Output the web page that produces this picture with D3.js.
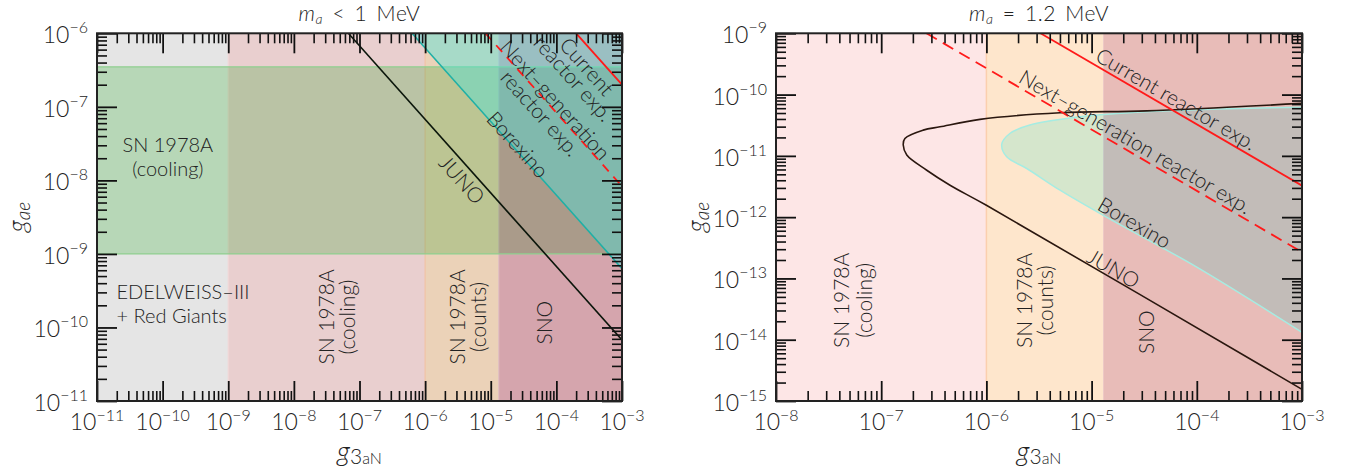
<!DOCTYPE html>
<html><head><meta charset="utf-8">
<script src="https://cdn.jsdelivr.net/npm/d3@7"></script>
<style>
body{margin:0;background:#fff;}
svg{display:block;font-family:Lato,"Open Sans","DejaVu Sans",sans-serif;font-weight:300;}
text{fill:#222;}
</style></head><body>
<svg id="chart" width="1346" height="474"></svg>
<script>
// ---------------- DATA ----------------
// Left panel  (m_a < 1 MeV)
const leftXDomain = [1e-11, 1e-3];
const leftYDomain = [1e-11, 1e-6];
const leftRegionEdges  = [1e-11, 1e-9, 1e-6, 1.32e-5, 1e-3];   // EDELWEISS+RG | SN cooling | SN counts | SNO
const leftRegionColors = ["#e5e5e5", "#e9cfcf", "#ebd2b8", "#d5a5ad"];
const leftCoolingBand  = [1e-9, 3.5e-7];                       // g_ae range of SN cooling band
const leftJUNO     = [[6.76e-8, 1e-6], [1e-3, 6.76e-11]];
const leftBorexino = [[6.31e-7, 1e-6], [1e-3, 6.31e-10]];
const leftNextGen  = [[8.32e-6, 1e-6], [1e-3, 8.32e-9]];
const leftCurrent  = [[2.0e-4, 1e-6], [1e-3, 2.0e-7]];
const leftXTicks = [1e-11,1e-10,1e-9,1e-8,1e-7,1e-6,1e-5,1e-4,1e-3];
const leftXTickLabels = ["−11","−10","−9","−8","−7","−6","−5","−4","−3"];
const leftYTicks = [1e-11,1e-10,1e-9,1e-8,1e-7,1e-6];
const leftYTickLabels = ["−11","−10","−9","−8","−7","−6"];

// Right panel (m_a = 1.2 MeV)
const rightXDomain = [1e-8, 1e-3];
const rightYDomain = [1e-15, 1e-9];
const rightRegionEdges  = [1e-8, 1e-6, 1.29e-5, 1e-3];          // SN cooling | SN counts | SNO
const rightRegionColors = ["#fde6e6", "#fee6cc", "#e8bcb8"];
const rightJUNO = [
  [1e-3, 7.18e-11], [3.34e-5, 5.43e-11], [5.01e-6, 5.05e-11], [8.69e-7, 3.94e-11],
  [3.62e-7, 2.98e-11], [2.51e-7, 2.63e-11], [1.68e-7, 1.92e-11], [1.62e-7, 1.50e-11],
  [1.75e-7, 1.03e-11], [2.71e-7, 5.83e-12], [4.51e-7, 3.32e-12], [1.0e-6, 1.56e-12],
  [1e-3, 1.55e-15]
];
const rightBorexino = [
  [1e-3, 6.24e-11], [3.34e-5, 5.24e-11], [7.76e-6, 4.34e-11], [2.59e-6, 3.18e-11],
  [1.67e-6, 2.32e-11], [1.40e-6, 1.55e-11], [1.56e-6, 9.64e-12], [2.42e-6, 6.22e-12],
  [5.01e-6, 2.75e-12], [1.29e-5, 1.07e-12], [1e-4, 1.53e-13], [1e-3, 1.32e-14]
];
const rightNextGen = [[2.69e-7, 1e-9], [1e-3, 2.69e-13]];
const rightCurrent = [[3.27e-6, 1e-9], [1e-3, 3.27e-12]];
const rightXTicks = [1e-8,1e-7,1e-6,1e-5,1e-4,1e-3];
const rightXTickLabels = ["−8","−7","−6","−5","−4","−3"];
const rightYTicks = [1e-15,1e-14,1e-13,1e-12,1e-11,1e-10,1e-9];
const rightYTickLabels = ["−15","−14","−13","−12","−11","−10","−9"];

// Text annotations (anchored in data coordinates)
const leftLabels = [
  {lines:["SN 1978A","(cooling)"], x:1.2e-10, y:2.4e-8, rot:0, anchor:"middle", gap:24, size:20},
  {lines:["EDELWEISS–III","+ Red Giants"], x:1.98e-11, y:2.45e-10, rot:0, anchor:"start", gap:24, size:20},
  {lines:["SN 1978A","(cooling)"], x:4.10e-8, y:1.39e-10, rot:-90, anchor:"middle", gap:21},
  {lines:["SN 1978A","(counts)"], x:4.07e-6, y:1.39e-10, rot:-90, anchor:"middle", gap:21},
  {lines:["SNO"], x:8.63e-5, y:1.16e-10, rot:-90, anchor:"middle", gap:20},
  {lines:["JUNO"], x:3.73e-6, y:1.04e-8, rot:48.2, anchor:"middle", gap:19, central:true},
  {lines:["Borexino"], x:2.64e-5, y:3.12e-8, rot:48.2, anchor:"middle", gap:19, central:true},
  {lines:["Next–generation","reactor exp."], x:9.86e-5, y:1.27e-7, rot:48.2, anchor:"middle", gap:20, central:true},
  {lines:["Current","reactor exp."], x:2.99e-4, y:3.61e-7, rot:48.2, anchor:"middle", gap:18, central:true}
];
const rightLabels = [
  {lines:["SN 1978A","(cooling)"], x:4.94e-8, y:4.39e-14, rot:-90, anchor:"middle", gap:23},
  {lines:["SN 1978A","(counts)"], x:2.69e-6, y:4.39e-14, rot:-90, anchor:"middle", gap:21},
  {lines:["SNO"], x:3.88e-5, y:1.33e-14, rot:-90, anchor:"middle", gap:20},
  {lines:["Current reactor exp."], x:6.44e-5, y:8.7e-11, rot:30.2, anchor:"middle", gap:19, central:true},
  {lines:["Next–generation reactor exp."], x:2.64e-5, y:1.75e-11, rot:30.2, anchor:"middle", gap:19, central:true},
  {lines:["Borexino"], x:2.59e-5, y:8.36e-13, rot:30.2, anchor:"middle", gap:19, central:true},
  {lines:["JUNO"], x:1.63e-5, y:1.49e-13, rot:30.2, anchor:"middle", gap:19, central:true}
];

// ---------------- DRAWING ----------------
const svg = d3.select("#chart");
const defs = svg.append("defs");
const line = (x, y) => d3.line().x(d => x(d[0])).y(d => y(d[1]));

function makePanel(id, box, xDomain, yDomain) {
  const x = d3.scaleLog().domain(xDomain).range([box.x0, box.x1]);
  const y = d3.scaleLog().domain(yDomain).range([box.y1, box.y0]);
  defs.append("clipPath").attr("id", "clip" + id).append("rect")
    .attr("x", box.x0).attr("y", box.y0).attr("width", box.x1 - box.x0).attr("height", box.y1 - box.y0);
  const g = svg.append("g");
  const plot = g.append("g").attr("clip-path", `url(#clip${id})`);
  return {x, y, g, plot, box};
}

function regions(P, edges, colors) {
  const [ya, yb] = P.y.domain();
  edges.slice(0, -1).forEach((e, i) => {
    P.plot.append("rect")
      .attr("x", P.x(e)).attr("width", P.x(edges[i + 1]) - P.x(e))
      .attr("y", P.y(yb)).attr("height", P.y(ya) - P.y(yb))
      .attr("fill", colors[i]);
  });
}

function minorTicks(domain) {
  const out = [];
  const a = Math.round(Math.log10(domain[0])), b = Math.round(Math.log10(domain[1]));
  for (let n = a; n < b; n++) for (let k = 2; k <= 9; k++) out.push(k * Math.pow(10, n));
  return out;
}

function axesFrame(P, xTicks, xLabels, yTicks, yLabels) {
  const {x, y, g, box} = P;
  const sides = [
    [d3.axisBottom(x), `translate(0,${box.y1})`, xTicks, x.domain()],
    [d3.axisTop(x), `translate(0,${box.y0})`, xTicks, x.domain()],
    [d3.axisLeft(y), `translate(${box.x0},0)`, yTicks, y.domain()],
    [d3.axisRight(y), `translate(${box.x1},0)`, yTicks, y.domain()]
  ];
  sides.forEach(([ax, tr, major, dom]) => {
    const mk = (vals, size, w) => {
      const a = ax.tickValues(vals).tickSize(-size).tickFormat("");
      const s = g.append("g").attr("transform", tr).call(a);
      s.select(".domain").remove();
      s.selectAll(".tick line").attr("stroke", "#111").attr("stroke-width", w);
    };
    mk(minorTicks(dom), 10, 1.6);
    mk(major, 20, 1.8);
  });
  g.append("rect").attr("x", box.x0).attr("y", box.y0)
    .attr("width", box.x1 - box.x0).attr("height", box.y1 - box.y0)
    .attr("fill", "none").attr("stroke", "#222").attr("stroke-width", 2);
  xTicks.forEach((t, i) => {
    const tx = g.append("text").attr("x", x(t)).attr("y", box.y1 + 29)
      .attr("text-anchor", "middle").attr("font-size", 23);
    tx.append("tspan").text("10");
    tx.append("tspan").attr("dy", -9).attr("font-size", 16).text(xLabels[i]);
  });
  yTicks.forEach((t, i) => {
    const ty = g.append("text").attr("x", box.x0 - 9).attr("y", y(t) + 10)
      .attr("text-anchor", "end").attr("font-size", 23);
    ty.append("tspan").text("10");
    ty.append("tspan").attr("dy", -10).attr("font-size", 16).text(yLabels[i]);
  });
}

function axisTitles(P, title) {
  const {g, box} = P;
  const cx = (box.x0 + box.x1) / 2;
  const t = g.append("text").attr("x", cx).attr("y", 21).attr("text-anchor", "middle")
    .attr("font-size", 21).attr("word-spacing", 3).attr("letter-spacing", 0.6);
  t.append("tspan").attr("font-style", "italic").text("m");
  t.append("tspan").attr("font-style", "italic").attr("font-size", 14).attr("dy", 3).text("a");
  t.append("tspan").attr("dy", -3).text(title);
  const xt = g.append("text").attr("x", cx).attr("y", 461).attr("text-anchor", "middle");
  xt.append("tspan").attr("font-size", 28).attr("font-style", "italic").text("g");
  xt.append("tspan").attr("font-size", 21).attr("dy", 3).text("3");
  xt.append("tspan").attr("font-size", 16).text("aN");
  const yt = g.append("text").attr("transform", `translate(${box.x0 - 71},${(box.y0 + box.y1) / 2}) rotate(-90)`)
    .attr("text-anchor", "middle");
  yt.append("tspan").attr("font-size", 26).attr("font-style", "italic").text("g");
  yt.append("tspan").attr("font-size", 19).attr("font-style", "italic").attr("dy", 4).text("ae");
}

function labels(P, list, size) {
  list.forEach(l => {
    const gg = P.g.append("g").attr("transform", `translate(${P.x(l.x)},${P.y(l.y)}) rotate(${l.rot})`);
    const t = gg.append("text").attr("text-anchor", l.anchor).attr("font-size", l.size || size);
    l.lines.forEach((s, i) => t.append("tspan").attr("x", 0).attr("y", i * l.gap)
      .attr("dominant-baseline", l.central ? "central" : "alphabetic").text(s));
  });
}

// ---- Left panel ----
const L = makePanel("L", {x0: 97, x1: 622, y0: 33.3, y1: 401}, leftXDomain, leftYDomain);
regions(L, leftRegionEdges, leftRegionColors);
[[leftRegionEdges[1], "#f0d6d6"], [leftRegionEdges[2], "#f2c2a4"], [leftRegionEdges[3], "#e2c0c0"]].forEach(([e, c]) => {
  L.plot.append("line").attr("x1", L.x(e)).attr("x2", L.x(e)).attr("y1", L.box.y0).attr("y2", L.box.y1)
    .attr("stroke", c).attr("stroke-width", 1.2);
});
L.plot.append("rect").attr("x", L.box.x0).attr("width", L.box.x1 - L.box.x0)
  .attr("y", L.y(leftCoolingBand[1])).attr("height", L.y(leftCoolingBand[0]) - L.y(leftCoolingBand[1]))
  .attr("fill", "#ccf0cc").style("mix-blend-mode", "multiply");
leftCoolingBand.forEach(v => L.plot.append("line").attr("x1", L.box.x0).attr("x2", L.box.x1)
  .attr("y1", L.y(v)).attr("y2", L.y(v)).attr("stroke", "#8fcf8f").attr("stroke-width", 1.3));
L.plot.append("path")
  .attr("d", line(L.x, L.y)([leftBorexino[0], [leftXDomain[1], leftYDomain[1]], leftBorexino[1]]) + "Z")
  .attr("fill", "rgb(64,230,225)").attr("fill-opacity", 0.4);
L.plot.append("path").attr("d", line(L.x, L.y)(leftBorexino)).attr("stroke", "#1fb0a6").attr("stroke-width", 1.6).attr("fill", "none");
L.plot.append("path").attr("d", line(L.x, L.y)(leftJUNO)).attr("stroke", "#0b160b").attr("stroke-width", 1.6).attr("fill", "none");
L.plot.append("path").attr("d", line(L.x, L.y)(leftNextGen)).attr("stroke", "#ff1a1a").attr("stroke-width", 1.8)
  .attr("stroke-dasharray", "9,7").attr("fill", "none");
L.plot.append("path").attr("d", line(L.x, L.y)(leftCurrent)).attr("stroke", "#ff1a1a").attr("stroke-width", 1.8).attr("fill", "none");
labels(L, leftLabels, 21);
axesFrame(L, leftXTicks, leftXTickLabels, leftYTicks, leftYTickLabels);
axisTitles(L, " < 1 MeV");

// ---- Right panel ----
const R = makePanel("R", {x0: 776, x1: 1302, y0: 33.3, y1: 401}, rightXDomain, rightYDomain);
regions(R, rightRegionEdges, rightRegionColors);
R.plot.append("line").attr("x1", R.x(rightRegionEdges[1])).attr("x2", R.x(rightRegionEdges[1]))
  .attr("y1", R.box.y0).attr("y2", R.box.y1).attr("stroke", "#fbcfae").attr("stroke-width", 1.5);
const curve = d3.line().x(d => R.x(d[0])).y(d => R.y(d[1])).curve(d3.curveCatmullRom.alpha(0.5));
R.plot.append("path").attr("d", curve(rightBorexino) + "Z")
  .attr("fill", "#d6ffff").style("mix-blend-mode", "multiply");
R.plot.append("path").attr("d", curve(rightBorexino)).attr("fill", "none")
  .attr("stroke", "#a6ece2").attr("stroke-width", 1.5);
R.plot.append("path").attr("d", curve(rightJUNO)).attr("fill", "none")
  .attr("stroke", "#2a170f").attr("stroke-width", 1.6);
R.plot.append("path").attr("d", line(R.x, R.y)(rightNextGen)).attr("stroke", "#ff1a1a").attr("stroke-width", 1.8)
  .attr("stroke-dasharray", "12,7").attr("fill", "none");
R.plot.append("path").attr("d", line(R.x, R.y)(rightCurrent)).attr("stroke", "#ff1a1a").attr("stroke-width", 1.8).attr("fill", "none");
labels(R, rightLabels, 21);
axesFrame(R, rightXTicks, rightXTickLabels, rightYTicks, rightYTickLabels);
axisTitles(R, " = 1.2 MeV");
</script>
</body></html>
